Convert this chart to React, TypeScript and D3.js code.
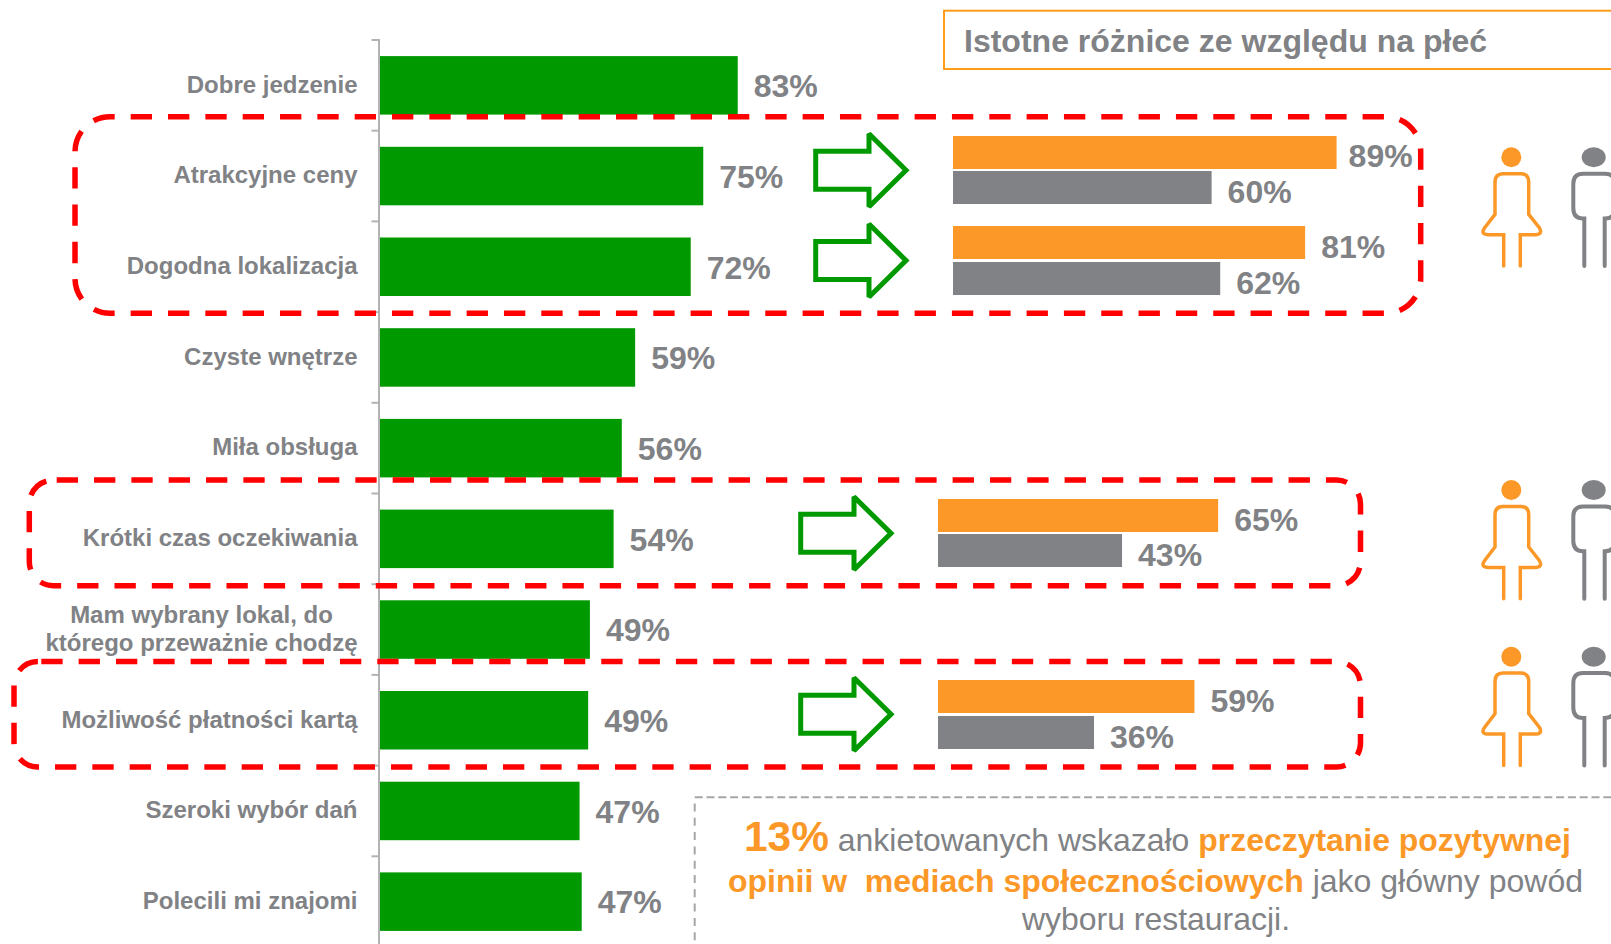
import React from "react";
import * as d3 from "d3";

const categories = ["Dobre jedzenie","Atrakcyjne ceny","Dogodna lokalizacja","Czyste wnętrze","Miła obsługa","Krótki czas oczekiwania","Mam wybrany lokal, do|którego przeważnie chodzę","Możliwość płatności kartą","Szeroki wybór dań","Polecili mi znajomi"];
const totals = [83, 75, 72.1, 59.2, 56.1, 54.2, 48.7, 48.3, 46.3, 46.8];
const totalLabels = ["83%","75%","72%","59%","56%","54%","49%","49%","47%","47%"];
const genderWomen = [89, 81.7, 65, 59.5];
const genderMen = [60, 62, 42.7, 36.2];
const womenLabels = ["89%","81%","65%","59%"];
const menLabels = ["60%","62%","43%","36%"];
const genderRows = [1, 2, 5, 7];

const GREEN = "#009900", ORANGE = "#FB9828", GRAY = "#808285", RED = "#FF0000";
const x = d3.scaleLinear().domain([0, 100]).range([380, 811]);
const y = d3.scaleBand<number>().domain(d3.range(10)).range([40, 947]).paddingInner(0.355).paddingOuter(0.1775);
const w = (v: number) => x(v) - x(0);
const FONT = "'Liberation Sans', Arial, sans-serif";

const groupX = [953, 953, 938, 938];
const orangeY = [136, 226, 499, 680];
const grayY = [171, 262, 534, 716];
const barH = 33;
const arrowDx = [0, 0, -15, -15];
const arrowCy = [170.3, 260.5, 533.3, 714.3];
const personDy = [0, 0, 332.7, 499.4];

const boxes = [
  { l: 75, t: 116.7, r: 1420.7, b: 313.3, rx: 35, offset: 16.63 },
  { l: 29.3, t: 480, r: 1360.5, b: 585.7, rx: 24, offset: 33.93 },
  { l: 14, t: 661.5, r: 1360.5, b: 767, rx: 24, offset: 34.03 },
];

const arrowPath = (dx: number, cy: number) =>
  d3.line()([[815.7+dx,cy-19],[869+dx,cy-19],[869+dx,cy-36.5],[906+dx,cy],[869+dx,cy+36.5],[869+dx,cy+19],[815.7+dx,cy+19]] as [number,number][]) + "Z";

const womanBody = "M1503.7 266V234.7H1489Q1480 234.7 1484.5 228L1495 214.3V182Q1495 173.7 1503 173.7H1521Q1528.7 173.7 1528.7 182V214.3L1539.5 228Q1543 234.7 1535 234.7H1520.3V266";
const manBody = "M1584.3 266V218.5H1583Q1573.3 218.5 1573.3 208V184Q1573.3 173.7 1583 173.7H1605Q1615 173.7 1615 184V208Q1615 218.5 1605 218.5H1604.7V266";

export default function App() {
  return (
    <svg width={1611} height={944} style={{ position: "absolute", left: 0, top: 0 }} fontFamily={FONT}>
      <rect x={944} y={10.7} width={700} height={58.3} fill="none" stroke="#FF9C1A" strokeWidth={2} />
      <text x={964} y={52} fontSize={32} fontWeight="bold" fill={GRAY} textLength={523} lengthAdjust="spacingAndGlyphs">Istotne różnice ze względu na płeć</text>

      <path d={`M371.5 40H379V947`} fill="none" stroke="#B3B3B3" strokeWidth={2} />
      {d3.range(1, 10).map(i => (
        <line key={i} x1={371.5} x2={379} y1={40 + i * y.step()} y2={40 + i * y.step()} stroke="#B3B3B3" strokeWidth={2} />
      ))}

      {categories.map((c, i) => {
        const cy = y(i)! + y.bandwidth() / 2;
        const lines = c.split("|");
        const multi = lines.length > 1;
        const tx = multi ? 201.5 : 357.5;
        return (
          <g key={c}>
            <rect x={x(0)} y={y(i)!} width={w(totals[i])} height={y.bandwidth()} fill={GREEN} />
            <text x={tx} textAnchor={multi ? "middle" : "end"} fontSize={24} fontWeight="bold" fill={GRAY}>
              {lines.map((t, k) => (
                <tspan key={k} x={tx} y={cy + (multi ? 7 : 7.3) + (k - (lines.length - 1) / 2) * 28}>{t}</tspan>
              ))}
            </text>
            <text x={x(totals[i]) + 16} y={cy + 11.8} fontSize={32} fontWeight="bold" fill={GRAY}>{totalLabels[i]}</text>
          </g>
        );
      })}

      {genderRows.map((row, i) => (
        <g key={row}>
          <path d={arrowPath(arrowDx[i], arrowCy[i])} fill="none" stroke={GREEN} strokeWidth={5} strokeMiterlimit={2} />
          <rect x={groupX[i]} y={orangeY[i]} width={w(genderWomen[i])} height={barH} fill={ORANGE} />
          <rect x={groupX[i]} y={grayY[i]} width={w(genderMen[i])} height={barH} fill={GRAY} />
          <text x={groupX[i] + w(genderWomen[i]) + (i === 0 ? 12 : 16)} y={orangeY[i] + (i === 0 ? 31 : 31.8)} fontSize={32} fontWeight="bold" fill={GRAY}>{womenLabels[i]}</text>
          <text x={groupX[i] + w(genderMen[i]) + 16} y={grayY[i] + 32.3} fontSize={32} fontWeight="bold" fill={GRAY}>{menLabels[i]}</text>
          {i !== 1 && (
            <g transform={`translate(0,${personDy[i]})`}>
              <circle cx={1511.3} cy={157.3} r={10} fill={ORANGE} />
              <path d={womanBody} fill="none" stroke={ORANGE} strokeWidth={3.5} strokeLinecap="round" />
              <ellipse cx={1593.7} cy={157.3} rx={12} ry={10} fill={GRAY} />
              <path d={manBody} fill="none" stroke={GRAY} strokeWidth={4} strokeLinecap="round" />
            </g>
          )}
        </g>
      ))}

      {boxes.map((b, i) => (
        <rect key={i} x={b.l} y={b.t} width={b.r - b.l} height={b.b - b.t} rx={b.rx} fill="none" stroke={RED} strokeWidth={5.5} strokeDasharray="21.33 16" strokeDashoffset={b.offset} />
      ))}

      <path d="M694.7 797.3H1611" fill="none" stroke="#A6A6A6" strokeWidth={2} strokeDasharray="8 3.8" />
      <path d="M694.7 803.5V944" fill="none" stroke="#A6A6A6" strokeWidth={2} strokeDasharray="8 6.3" />

      <text x={744} y={851} fontSize={32} fill={GRAY} textLength={827} lengthAdjust="spacingAndGlyphs">
        <tspan fontSize={42.5} fontWeight="bold" fill={ORANGE}>13%</tspan>
        <tspan> ankietowanych wskazało </tspan>
        <tspan fontWeight="bold" fill={ORANGE}>przeczytanie pozytywnej</tspan>
      </text>
      <text x={728} y={892} fontSize={32} fill={GRAY} textLength={855} lengthAdjust="spacingAndGlyphs">
        <tspan fontWeight="bold" fill={ORANGE} xmlSpace="preserve">opinii w  mediach społecznościowych</tspan>
        <tspan> jako główny powód</tspan>
      </text>
      <text x={1022} y={930} fontSize={32} fill={GRAY} textLength={268} lengthAdjust="spacingAndGlyphs">wyboru restauracji.</text>
    </svg>
  );
}
